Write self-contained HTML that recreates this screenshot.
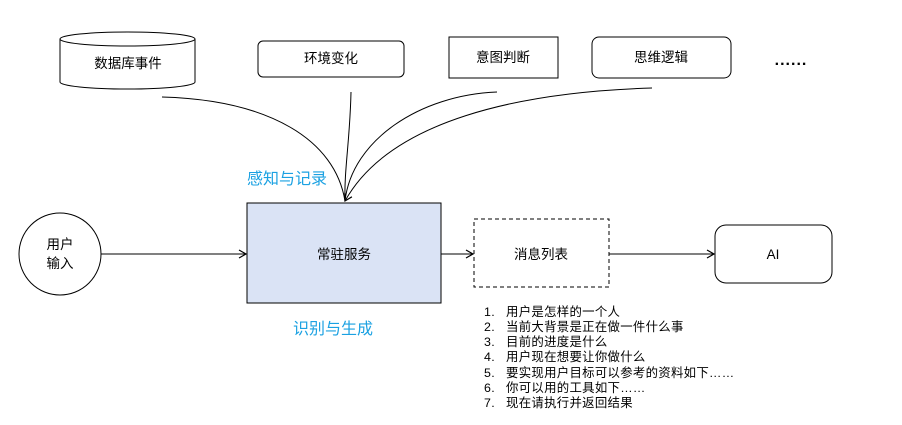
<!DOCTYPE html>
<html><head><meta charset="utf-8"><style>
html,body{margin:0;padding:0;background:#fff;}
svg text{font-family:"Liberation Sans","Noto Sans CJK SC",sans-serif;}
</style></head><body>
<svg width="902" height="420" viewBox="0 0 902 420" xmlns="http://www.w3.org/2000/svg">
<defs><marker id="a" markerWidth="10" markerHeight="10" refX="8" refY="5" orient="auto" markerUnits="userSpaceOnUse"><path d="M1,1 L8,5 L1,9" fill="none" stroke="#000" stroke-width="1.2"/></marker></defs>
<g fill="#fff" stroke="#000" stroke-width="1">
<path d="M60,39 L60,82 A67,7 0 0 0 195,82 L195,39"/>
<ellipse cx="127.5" cy="39" rx="67.5" ry="7"/>
<rect x="258" y="41" width="146" height="36" rx="5"/>
<rect x="449" y="37" width="109" height="41"/>
<rect x="592" y="37" width="139" height="41" rx="7"/>
<rect x="247" y="203" width="194" height="100" fill="#dae3f5"/>
<circle cx="60" cy="254" r="41"/>
<rect x="474" y="219" width="135" height="68" stroke-dasharray="4,3"/>
<rect x="715" y="225" width="117" height="58" rx="11"/>
</g>
<g fill="none" stroke="#000" stroke-width="1">
<path d="M162,97 C270,100 335,140 345,201"/>
<path d="M351,92 C350,140 344,170 345,201"/>
<path d="M497,92 C420,95 352,140 345,201"/>
<path d="M652,88 C520,92 390,120 345,201" marker-end="url(#a)"/>
<path d="M101,254 L246,254" marker-end="url(#a)"/>
<path d="M441,254 L473,254" marker-end="url(#a)"/>
<path d="M609,254 L714,254" marker-end="url(#a)"/>
</g>
<g font-size="13.5" text-anchor="middle" fill="#000">
<text x="128" y="68">数据库事件</text>
<text x="331" y="63">环境变化</text>
<text x="503" y="62">意图判断</text>
<text x="661" y="62">思维逻辑</text>
<text x="791" y="65" font-size="16" font-weight="bold" letter-spacing="1">......</text>
<text x="344" y="259">常驻服务</text>
<text x="60" y="249">用户</text>
<text x="60" y="268">输入</text>
<text x="541" y="259">消息列表</text>
<text x="773" y="259">AI</text>
</g>
<g font-size="16" fill="#1ba1e2">
<text x="247" y="184">感知与记录</text>
<text x="293" y="334">识别与生成</text>
</g>
<g font-size="12.4" fill="#000" letter-spacing="0.3">
<text x="484" y="316">1.</text><text x="506" y="316">用户是怎样的一个人</text>
<text x="484" y="331">2.</text><text x="506" y="331">当前大背景是正在做一件什么事</text>
<text x="484" y="346">3.</text><text x="506" y="346">目前的进度是什么</text>
<text x="484" y="361">4.</text><text x="506" y="361">用户现在想要让你做什么</text>
<text x="484" y="377">5.</text><text x="506" y="377">要实现用户目标可以参考的资料如下……</text>
<text x="484" y="392">6.</text><text x="506" y="392">你可以用的工具如下……</text>
<text x="484" y="407">7.</text><text x="506" y="407">现在请执行并返回结果</text>
</g>
</svg>
</body></html>
